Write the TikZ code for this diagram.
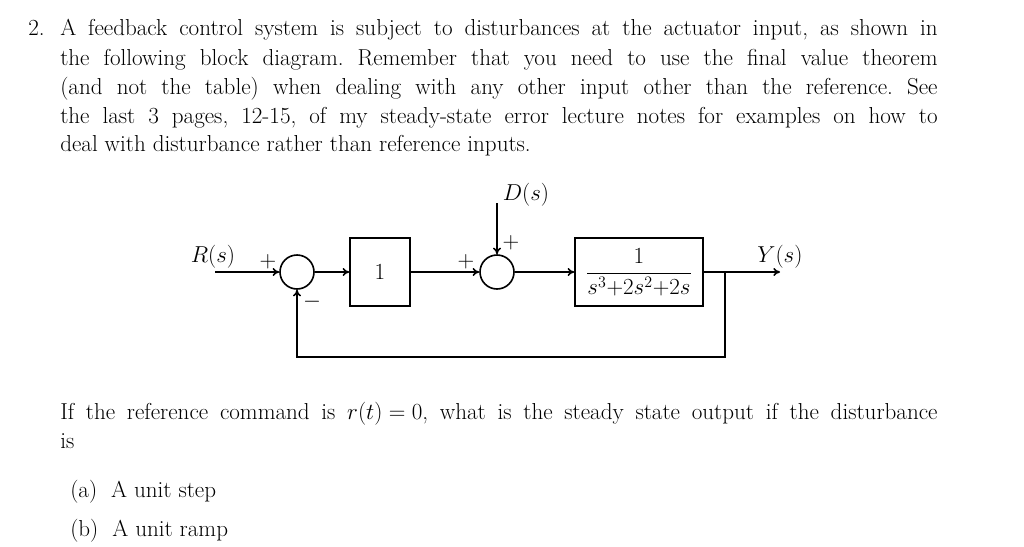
\documentclass[tikz,border=0pt]{standalone}
\usetikzlibrary{arrows.meta}
\begin{document}
\frenchspacing
\begin{tikzpicture}[x=0.75pt,y=-0.75pt,font=\fontsize{17.3}{21.75}\selectfont,
  blk/.style={draw,line width=1.2pt,minimum width=60*0.75pt,minimum height=68*0.75pt,inner sep=1pt},
  sumc/.style={draw,circle,line width=1.2pt,minimum size=34*0.75pt,inner sep=0pt},
  ln/.style={line width=1.2pt},
  ar/.style={ln,-{To[length=5pt,width=6pt]}},
  txt/.style={anchor=base west,inner sep=0pt}]
\useasboundingbox (0,0) rectangle (1024,546);
\node[txt] (n2) at (28,36) {2.};
\node[txt] (l1) at (60,36) {\makebox[658pt][s]{A feedback control system is subject to disturbances at the actuator input, as shown in}};
\node[txt] (l2) at (60,65) {\makebox[658pt][s]{the following block diagram. Remember that you need to use the final value theorem}};
\node[txt] (l3) at (60,94) {\makebox[658pt][s]{(and not the table) when dealing with any other input other than the reference. See}};
\node[txt] (l4) at (60,123) {\makebox[658pt][s]{the last 3 pages, 12-15, of my steady-state error lecture notes for examples on how to}};
\node[txt] (l5) at (60,151) {deal with disturbance rather than reference inputs.};
\node[txt] (p1) at (60,419) {\makebox[658pt][s]{If the reference command is ${r(t)=0}$, what is the steady state output if the disturbance}};
\node[txt] (p2) at (60,448) {is};
\node[txt] (qa) at (70,497) {(a)\ \ A unit step};
\node[txt] (qb) at (70,536) {(b)\ \ A unit ramp};
% diagram
\node[sumc] (s1) at (297,272) {};
\node[blk] (b1) at (380,272) {$1$};
\node[sumc] (s2) at (497,272) {};
\node[blk,minimum width=128*0.75pt] (b2) at (639,272) {$\displaystyle\frac{1}{s^3{+}2s^2{+}2s}$};
\coordinate (rin) at (215,272);
\coordinate (yout) at (780,272);
\coordinate (br) at (725,272);
\coordinate (dtop) at (497,203);
\draw[ar] (rin) -- (s1);
\draw[ar] (s1) -- (b1);
\draw[ar] (b1) -- (s2);
\draw[ar] (dtop) -- (s2);
\draw[ar] (s2) -- (b2);
\draw[ar] (b2) -- (yout);
\draw[ar] (br) -- (725,357) -| (s1);
\node (rl) at (213,257) {$R(s)$};
\node (yl) at (780,257) {$Y(s)$};
\node (dl) at (526,195) {$D(s)$};
\node (p1s) at (268,262) {$+$};
\node (m1s) at (312,302) {$-$};
\node (p2s) at (466,262) {$+$};
\node (p3s) at (511,243) {$+$};
\end{tikzpicture}
\end{document}
